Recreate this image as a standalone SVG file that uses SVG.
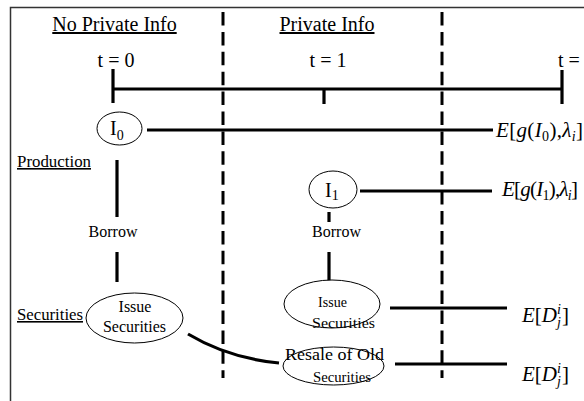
<svg xmlns="http://www.w3.org/2000/svg" width="584" height="401" viewBox="0 0 584 401" font-family="'Liberation Serif', 'DejaVu Serif', serif">
<style>
text{font-family:'Liberation Serif','DejaVu Serif',serif;fill:#000}
.h{font-size:20px;text-decoration:underline}
.t{font-size:20px}
.lab{font-size:16px;text-decoration:underline}
.n{font-size:16px}
.s{font-size:14px}
.m{font-size:21px}
.it{font-style:italic}
.ln{stroke:#000;stroke-width:3.2;fill:none}
.dash{stroke:#000;stroke-width:3;stroke-dasharray:13.5 6.4;fill:none}
.el{fill:#fff;stroke:#000;stroke-width:1}
</style>
<rect x="0" y="0" width="584" height="401" fill="#fff"/>
<path d="M10.5,401 V7.5 H584" stroke="#333" stroke-width="1.5" fill="none"/>

<g id="headings">
<text class="h" x="114.5" y="31" text-anchor="middle">No Private Info</text>
<text class="h" x="327" y="31" text-anchor="middle">Private Info</text>
<text class="lab" x="17" y="167" textLength="74" lengthAdjust="spacingAndGlyphs">Production</text>
<text class="lab" x="17" y="320" textLength="66" lengthAdjust="spacingAndGlyphs">Securities</text>
</g>

<g id="timeline">
<text class="t" x="116" y="67" text-anchor="middle">t = 0</text>
<text class="t" x="328" y="67" text-anchor="middle">t = 1</text>
<text class="t" x="558" y="67">t = 2</text>
</g>

<g id="connectors">
<line class="dash" x1="223" y1="12" x2="223" y2="378"/>
<line class="dash" x1="442" y1="12" x2="442" y2="378"/>
<line class="ln" x1="113" y1="89" x2="562" y2="89"/>
<line class="ln" x1="113" y1="69" x2="113" y2="103"/>
<line class="ln" x1="324" y1="88" x2="324" y2="104"/>
<line class="ln" x1="562" y1="70" x2="562" y2="104"/>
<line class="ln" x1="147" y1="130" x2="493" y2="130"/>
<line class="ln" x1="117" y1="160" x2="117" y2="217"/>
<line class="ln" x1="117" y1="252" x2="117" y2="282"/>
<line class="ln" x1="360" y1="191" x2="492" y2="191"/>
<line class="ln" x1="329" y1="212" x2="329" y2="222"/>
<line class="ln" x1="329" y1="252" x2="329" y2="282"/>
<line class="ln" x1="390" y1="308" x2="507" y2="308"/>
<line class="ln" x1="395" y1="364" x2="507" y2="364"/>
<path class="ln" d="M188,334 Q228,358 279,363"/>
</g>

<g id="node-I0">
<ellipse class="el" cx="119.5" cy="128.5" rx="22.5" ry="16.5"/>
<text class="t" x="110" y="135">I<tspan class="s" dy="5">0</tspan></text>
</g>

<g id="node-I1">
<ellipse class="el" cx="333" cy="189.5" rx="24" ry="18.5"/>
<text class="t" x="325" y="197">I<tspan class="s" dy="3">1</tspan></text>
</g>

<g id="borrow-left">
<text class="n" x="113" y="237" text-anchor="middle">Borrow</text>
</g>
<g id="borrow-right">
<text class="n" x="336.5" y="237" text-anchor="middle">Borrow</text>
</g>

<g id="node-issue-left">
<ellipse class="el" cx="134.5" cy="318" rx="48.5" ry="25"/>
<text class="n" x="135" y="312" text-anchor="middle">Issue</text>
<text class="n" x="134.5" y="332" text-anchor="middle">Securities</text>
</g>

<g id="node-issue-right">
<ellipse class="el" cx="332" cy="304" rx="48" ry="24"/>
<text class="s" x="332.5" y="307" text-anchor="middle">Issue</text>
<text class="s" x="343.5" y="328" text-anchor="middle" textLength="63" lengthAdjust="spacingAndGlyphs">Securities</text>
</g>

<g id="node-resale">
<ellipse class="el" cx="333.5" cy="366" rx="50.5" ry="19"/>
<text class="n" x="285" y="360" textLength="99" lengthAdjust="spacingAndGlyphs">Resale of Old</text>
<text class="s" x="342" y="382" text-anchor="middle" textLength="58" lengthAdjust="spacingAndGlyphs">Securities</text>
</g>

<g id="payoff-I0">
<text class="m" x="496" y="137" textLength="87" lengthAdjust="spacing"><tspan class="it">E</tspan>[<tspan class="it">g</tspan>(<tspan class="it">I</tspan><tspan class="s" dy="4">0</tspan><tspan dy="-4">),</tspan><tspan class="it">λ</tspan><tspan class="it s" dy="4">i</tspan><tspan dy="-4">]</tspan></text>
</g>
<g id="payoff-I1">
<text class="m" x="502" y="196" textLength="76" lengthAdjust="spacing"><tspan class="it">E</tspan>[<tspan class="it">g</tspan>(<tspan class="it">I</tspan><tspan class="s" dy="4">1</tspan><tspan dy="-4">),</tspan><tspan class="it">λ</tspan><tspan class="it s" dy="4">i</tspan><tspan dy="-4">]</tspan></text>
</g>
<g id="payoff-D1">
<text class="m" x="522" y="322"><tspan class="it">E</tspan>[<tspan class="it">D</tspan><tspan class="it s" x="557" dy="-8">i</tspan><tspan class="it s" x="557" dy="13">j</tspan><tspan x="562" dy="-5">]</tspan></text>
</g>
<g id="payoff-D2">
<text class="m" x="522" y="381"><tspan class="it">E</tspan>[<tspan class="it">D</tspan><tspan class="it s" x="557" dy="-8">i</tspan><tspan class="it s" x="557" dy="13">j</tspan><tspan x="562" dy="-5">]</tspan></text>
</g>
</svg>
